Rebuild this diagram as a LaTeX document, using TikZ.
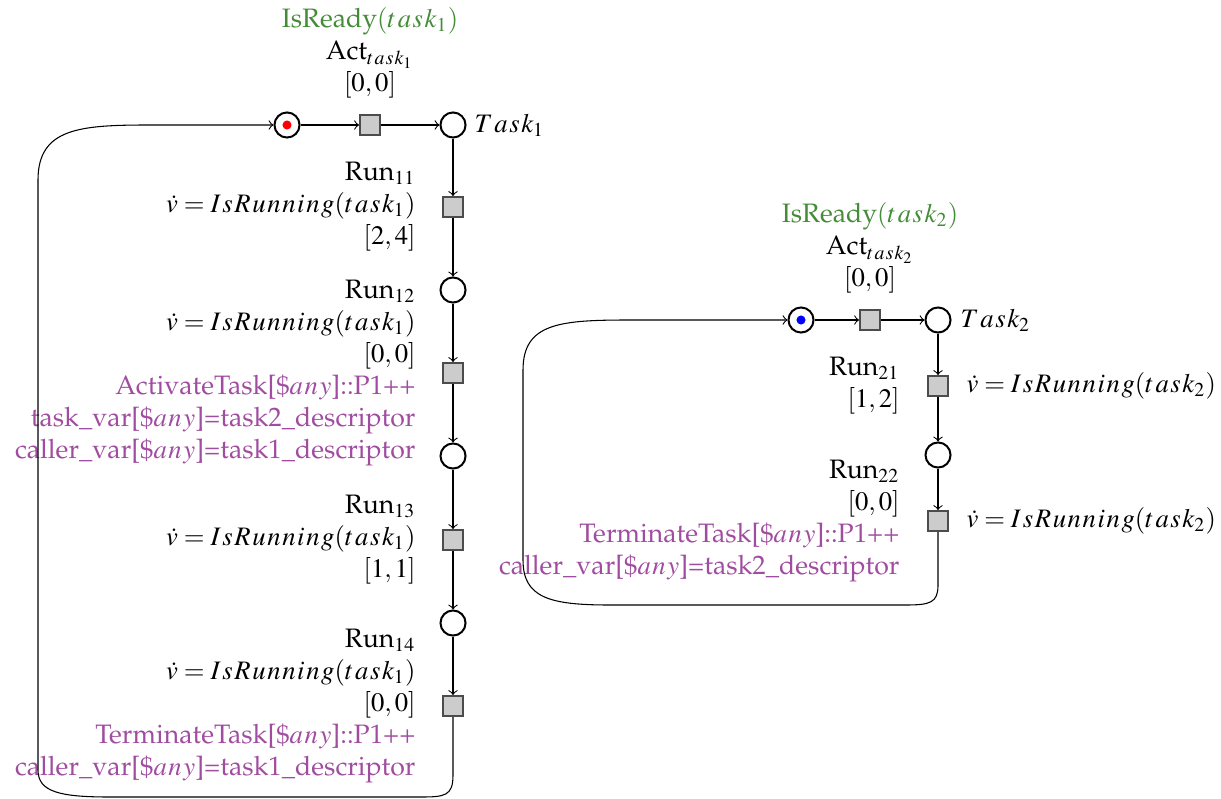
\documentclass[tikz,border=0pt]{standalone}
\usepackage[T1]{fontenc}
\usepackage{mathptmx}
\usepackage{palatino}
\definecolor{condgreen}{RGB}{68,140,56}
\definecolor{actpurple}{RGB}{160,76,160}
\makeatletter
\newcommand\wide[1]{\def\wsep{}\@tfor\wch:=#1\do{\wsep\wch\def\wsep{\mkern1.1mu}}}
\makeatother
\newcommand\runeq[1]{$\dot{v} = \wide{IsRunning}(\wide{task}_{#1})$}
\begin{document}
\begin{tikzpicture}[x=0.375pt,y=-0.375pt,
  place/.style={circle,draw,line width=0.75pt,minimum size=9.4pt,inner sep=0pt},
  trans/.style={rectangle,draw=black!70,fill=black!20,line width=0.75pt,minimum size=7.5pt,inner sep=0pt},
  arc/.style={->,line width=0.4pt},
  lbl/.style={inner sep=0pt,align=right,anchor=east},
  rlbl/.style={inner sep=0pt,anchor=west},
  tlbl/.style={inner sep=0pt,align=center,anchor=south},
  tok/.style={circle,inner sep=0pt,minimum size=3.4pt}]
\useasboundingbox (0,0) rectangle (1221,798);
% left net
\node[place] (p1) at (287,125) {};
\node[tok,fill=red] (k1) at (p1) {};
\node[trans] (a1) at (370,125) {};
\node[place] (t1) at (453,125) {};
\node[trans] (r11) at (453,207) {};
\node[place] (q12) at (453,290) {};
\node[trans] (r12) at (453,373) {};
\node[place] (q13) at (453,456) {};
\node[trans] (r13) at (453,540) {};
\node[place] (q14) at (453,623) {};
\node[trans] (r14) at (453,706) {};
\node[tlbl] (la1) at (370,99) {\textcolor{condgreen}{IsReady$(\wide{task}_1)$}\\Act$_{\wide{task}_1}$\\$[0,0]$};
\node[rlbl] (lt1) at (474,125) {$\wide{Task}_1$};
\node[lbl] (lr11) at (416,207) {Run$_{11}$\\\runeq{1}\\$[2,4]$};
\node[lbl] (lr12) at (416,373) {Run$_{12}$\\\runeq{1}\\$[0,0]$\\
  \textcolor{actpurple}{ActivateTask[\$$\wide{any}$]::P1++}\\
  \textcolor{actpurple}{task\_var[\$$\wide{any}$]=task2\_descriptor}\\
  \textcolor{actpurple}{caller\_var[\$$\wide{any}$]=task1\_descriptor}};
\node[lbl] (lr13) at (416,540) {Run$_{13}$\\\runeq{1}\\$[1,1]$};
\node[lbl] (lr14) at (416,706) {Run$_{14}$\\\runeq{1}\\$[0,0]$\\
  \textcolor{actpurple}{TerminateTask[\$$\wide{any}$]::P1++}\\
  \textcolor{actpurple}{caller\_var[\$$\wide{any}$]=task1\_descriptor}};
\draw[arc] (p1) -- (a1);
\draw[arc] (a1) -- (t1);
\draw[arc] (t1) -- (r11);
\draw[arc] (r11) -- (q12);
\draw[arc] (q12) -- (r12);
\draw[arc] (r12) -- (q13);
\draw[arc] (q13) -- (r13);
\draw[arc] (r13) -- (q14);
\draw[arc] (q14) -- (r14);
\draw[arc] (r14.south) -- (453,775) .. controls (453,796) and (445,797) .. (420,797)
  -- (110,797) .. controls (60,797) and (38,792) .. (38,770)
  -- (38,180) .. controls (38,128) and (80,125) .. (150,125) -- (p1.west);
% right net
\node[place] (p2) at (801,320) {};
\node[tok,fill=blue] (k2) at (p2) {};
\node[trans] (a2) at (870,320) {};
\node[place] (t2) at (938,320) {};
\node[trans] (r21) at (938,386) {};
\node[place] (q22) at (938,455) {};
\node[trans] (r22) at (938,521) {};
\node[tlbl] (la2) at (870,294) {\textcolor{condgreen}{IsReady$(\wide{task}_2)$}\\Act$_{\wide{task}_2}$\\$[0,0]$};
\node[rlbl] (lt2) at (960,320) {$\wide{Task}_2$};
\node[lbl] (lr21) at (900,386) {Run$_{21}$\\$[1,2]$};
\node[rlbl] (rr21) at (966,386) {\runeq{2}};
\node[lbl] (lr22) at (900,521) {Run$_{22}$\\$[0,0]$\\
  \textcolor{actpurple}{TerminateTask[\$$\wide{any}$]::P1++}\\
  \textcolor{actpurple}{caller\_var[\$$\wide{any}$]=task2\_descriptor}};
\node[rlbl] (rr22) at (966,521) {\runeq{2}};
\draw[arc] (p2) -- (a2);
\draw[arc] (a2) -- (t2);
\draw[arc] (t2) -- (r21);
\draw[arc] (r21) -- (q22);
\draw[arc] (q22) -- (r22);
\draw[arc] (r22.south) -- (938,585) .. controls (938,603) and (930,605) .. (905,605)
  -- (610,605) .. controls (550,605) and (523,598) .. (523,560)
  -- (523,370) .. controls (523,323) and (560,320) .. (630,320) -- (p2.west);
\end{tikzpicture}
\end{document}
